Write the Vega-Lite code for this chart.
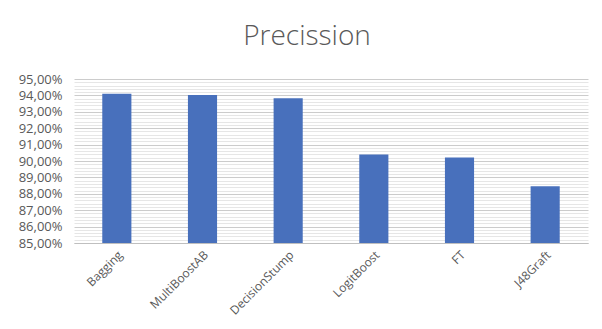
{
  "$schema": "https://vega.github.io/schema/vega-lite/v6.json",
  "autosize": {"type": "none"},
  "width": 514,
  "height": 164,
  "padding": {"left": 74, "top": 79, "right": 14, "bottom": 86},
  "background": "white",
  "title": {
    "text": "Precission",
    "font": "Open Sans",
    "fontSize": 28,
    "fontWeight": 300,
    "color": "#595959",
    "anchor": "middle",
    "dx": -24,
    "offset": 22
  },
  "data": {
    "values": [
      {"model": "Bagging", "precision": 0.9410},
      {"model": "MultiBoostAB", "precision": 0.9402},
      {"model": "DecisionStump", "precision": 0.9382},
      {"model": "LogitBoost", "precision": 0.9040},
      {"model": "FT", "precision": 0.9022},
      {"model": "J48Graft", "precision": 0.8846}
    ]
  },
  "mark": {"type": "bar", "color": "#4870BC"},
  "encoding": {
    "x": {
      "field": "model",
      "type": "nominal",
      "sort": null,
      "scale": {"paddingInner": 0.66, "paddingOuter": 0.33},
      "axis": {
        "title": null,
        "labelAngle": -45,
        "labelFont": "Open Sans",
        "labelFontSize": 12,
        "labelColor": "#595959",
        "labelPadding": 6,
        "ticks": false,
        "domainColor": "#bfbfbf",
        "domainWidth": 1
      }
    },
    "y": {
      "field": "precision",
      "type": "quantitative",
      "scale": {"domain": [0.85, 0.95], "zero": false, "nice": false},
      "axis": {
        "title": null,
        "values": [0.85, 0.852, 0.854, 0.856, 0.858, 0.86, 0.862, 0.864, 0.866, 0.868, 0.87, 0.872, 0.874, 0.876, 0.878, 0.88, 0.882, 0.884, 0.886, 0.888, 0.89, 0.892, 0.894, 0.896, 0.898, 0.90, 0.902, 0.904, 0.906, 0.908, 0.91, 0.912, 0.914, 0.916, 0.918, 0.92, 0.922, 0.924, 0.926, 0.928, 0.93, 0.932, 0.934, 0.936, 0.938, 0.94, 0.942, 0.944, 0.946, 0.948, 0.95],
        "labelExpr": "abs(datum.value*100 - round(datum.value*100)) < 0.01 ? replace(format(datum.value, '.2%'), '.', ',') : ''",
        "labelFont": "Open Sans",
        "labelFontSize": 13,
        "labelColor": "#595959",
        "labelPadding": 12,
        "ticks": false,
        "domain": false,
        "grid": true,
        "gridColor": {"condition": {"test": "abs(datum.value*100 - round(datum.value*100)) < 0.01", "value": "#cccccc"}, "value": "#e6e6e6"},
        "labelOverlap": false
      }
    },
    "y2": {"datum": 0.85}
  },
  "config": {"view": {"stroke": null}}
}
